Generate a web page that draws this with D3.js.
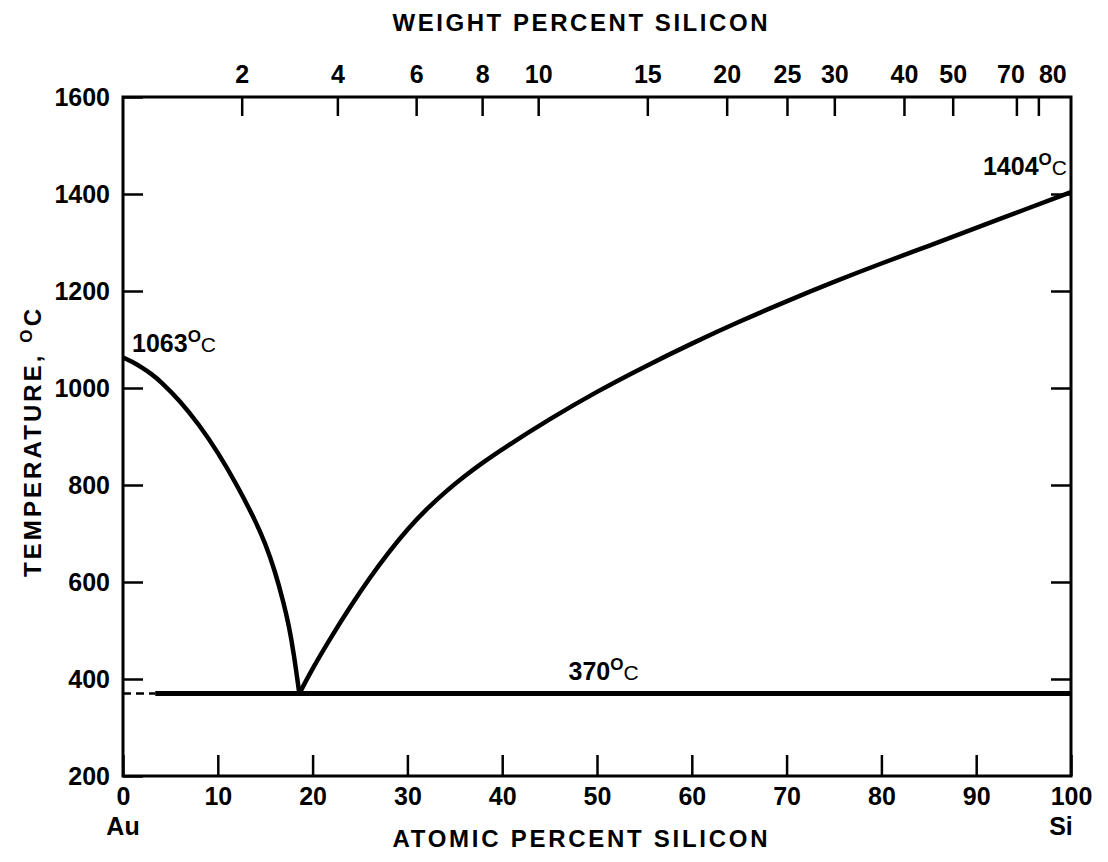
<!DOCTYPE html>
<html>
<head>
<meta charset="utf-8">
<script src="https://cdn.jsdelivr.net/npm/d3@7/dist/d3.min.js"></script>
<style>
  html, body { margin: 0; padding: 0; background: #fff; }
  svg { display: block; }
  text { font-family: "Liberation Sans", Arial, Helvetica, sans-serif; fill: #000; }
</style>
</head>
<body>
<svg id="chart" width="1108" height="862"></svg>
<script>
// Au–Si phase diagram: liquidus branches and the eutectic isotherm.

// Liquidus on the gold-rich side: [atomic % Si, temperature °C]
const liquidusAu = [
  [0, 1063], [1, 1054], [2, 1042], [3, 1029], [4, 1013], [6, 974],
  [8, 925], [10, 868], [12, 801], [14, 725], [15, 680], [16, 625],
  [17, 553], [17.5, 510], [18, 455], [18.6, 370]
];
// Liquidus on the silicon-rich side: [atomic % Si, temperature °C]
const liquidusSi = [
  [18.6, 370], [20, 422], [22, 488], [24, 550], [26, 608], [28, 661],
  [30, 709], [32, 750], [34, 786], [36, 818], [38, 847], [40, 874],
  [45, 936], [50, 993], [55, 1044], [60, 1092], [65, 1137], [70, 1179],
  [75, 1219], [80, 1257], [85, 1293], [90, 1330], [95, 1367], [100, 1404]
];
// Eutectic isotherm
const eutecticTemp = 370;
const eutecticSolidFrom = 3.4;   // dashed below this composition

// Axis ticks
const atomicTicks = [0, 10, 20, 30, 40, 50, 60, 70, 80, 90, 100];
const tempTicks = [200, 400, 600, 800, 1000, 1200, 1400, 1600];
const weightTicks = [2, 4, 6, 8, 10, 15, 20, 25, 30, 40, 50, 70, 80];
const endMembers = [{ label: "Au", at: 0 }, { label: "Si", at: 100 }];

// Point labels
const pointLabels = [
  { value: "1063", at: 0, temp: 1063, anchor: "start", dx: 9, dy: -5 },
  { value: "1404", at: 100, temp: 1404, anchor: "end", dx: -4, dy: -17 },
  { value: "370", at: 47, temp: 370, anchor: "start", dx: 0, dy: -14 }
];

// Atomic weights for the weight-% → atomic-% conversion
const massAu = 196.967, massSi = 28.086;
const wtToAt = w => 100 * (w / massSi) / (w / massSi + (100 - w) / massAu);

const svg = d3.select("#chart");
const plotLeft = 123, plotRight = 1071, plotTop = 97, plotBottom = 776;

const x = d3.scaleLinear().domain([0, 100]).range([plotLeft, plotRight]);
const y = d3.scaleLinear().domain([200, 1600]).range([plotBottom, plotTop]);

const tickFont = "bold 25px 'Liberation Sans', Arial, sans-serif";

function styleAxis(g) {
  g.select(".domain").remove();
  g.selectAll(".tick line").attr("stroke", "#000").attr("stroke-width", 2.5);
  g.selectAll(".tick text").style("font", tickFont).attr("fill", "#000");
}

// Bottom axis: atomic percent
svg.append("g")
  .attr("transform", `translate(0,${plotBottom})`)
  .call(d3.axisBottom(x).tickValues(atomicTicks).tickFormat(d3.format("d"))
    .tickSizeInner(-21).tickSizeOuter(0).tickPadding(11))
  .call(styleAxis);

// Left axis: temperature
svg.append("g")
  .attr("transform", `translate(${plotLeft},0)`)
  .call(d3.axisLeft(y).tickValues(tempTicks).tickFormat(d3.format("d"))
    .tickSizeInner(-20).tickSizeOuter(0).tickPadding(13))
  .call(styleAxis);

// Right axis: inward ticks only
svg.append("g")
  .attr("transform", `translate(${plotRight},0)`)
  .call(d3.axisRight(y).tickValues(tempTicks.slice(1, -1)).tickFormat("")
    .tickSizeInner(-20).tickSizeOuter(0))
  .call(styleAxis);

// Top axis: weight percent, placed at the equivalent atomic percent
const topAxis = svg.append("g")
  .attr("transform", `translate(0,${plotTop})`)
  .call(d3.axisTop(x)
    .tickValues(weightTicks.map(wtToAt))
    .tickFormat((d, i) => weightTicks[i])
    .tickSizeInner(-19).tickSizeOuter(0).tickPadding(14))
  .call(styleAxis);

// The two highest weight ticks sit close together: spread their labels
const crowded = topAxis.selectAll(".tick text").nodes();
d3.select(crowded[crowded.length - 2]).attr("dx", -6);
d3.select(crowded[crowded.length - 1]).attr("dx", 14);

// Frame
svg.append("rect")
  .attr("x", plotLeft).attr("y", plotTop)
  .attr("width", plotRight - plotLeft).attr("height", plotBottom - plotTop)
  .attr("fill", "none").attr("stroke", "#000").attr("stroke-width", 3);

// Axis titles
const titleFont = "bold 24px 'Liberation Sans', Arial, sans-serif";
svg.append("text")
  .attr("x", 580).attr("y", 31)
  .attr("text-anchor", "middle")
  .attr("textLength", 375).attr("lengthAdjust", "spacing")
  .style("font", titleFont)
  .text("WEIGHT PERCENT SILICON");

svg.append("text")
  .attr("x", 580).attr("y", 847)
  .attr("text-anchor", "middle")
  .attr("textLength", 375).attr("lengthAdjust", "spacing")
  .style("font", titleFont)
  .text("ATOMIC PERCENT SILICON");

const yTitle = svg.append("text")
  .attr("transform", `translate(41,443) rotate(-90)`)
  .attr("text-anchor", "middle")
  .attr("textLength", 268).attr("lengthAdjust", "spacing")
  .style("font", titleFont);
yTitle.append("tspan").text("TEMPERATURE, ");
yTitle.append("tspan").attr("dy", -9).style("font-size", "17px").text("O");
yTitle.append("tspan").attr("dy", 9).text("C");

// End-member labels
svg.selectAll(".element")
  .data(endMembers)
  .join("text")
  .attr("class", "element")
  .attr("x", d => x(d.at) - (d.at === 100 ? 10 : 0))
  .attr("y", 835)
  .attr("text-anchor", "middle")
  .style("font", tickFont)
  .text(d => d.label);

// Curves (B-spline keeps the end points and smooths between them)
const line = d3.line()
  .x(d => x(d[0]))
  .y(d => y(d[1]))
  .curve(d3.curveBasis);

[liquidusAu, liquidusSi].forEach(branch => {
  svg.append("path")
    .datum(branch)
    .attr("d", line)
    .attr("fill", "none").attr("stroke", "#000")
    .attr("stroke-width", 4.5).attr("stroke-linejoin", "round");
});

// Eutectic isotherm: dashed near pure Au, solid elsewhere
svg.append("line")
  .attr("x1", x(0)).attr("x2", x(eutecticSolidFrom))
  .attr("y1", y(eutecticTemp)).attr("y2", y(eutecticTemp))
  .attr("stroke", "#000").attr("stroke-width", 2.5)
  .attr("stroke-dasharray", "8,5");

svg.append("line")
  .attr("x1", x(eutecticSolidFrom)).attr("x2", x(100))
  .attr("y1", y(eutecticTemp)).attr("y2", y(eutecticTemp))
  .attr("stroke", "#000").attr("stroke-width", 5);

// Temperature labels with superscript degree mark
pointLabels.forEach(p => {
  const t = svg.append("text")
    .attr("x", x(p.at) + p.dx)
    .attr("y", y(p.temp) + p.dy)
    .attr("text-anchor", p.anchor);
  t.append("tspan").style("font", tickFont).text(p.value);
  t.append("tspan").attr("dy", -10)
    .style("font", "bold 17px 'Liberation Sans', Arial, sans-serif").text("O");
  t.append("tspan").attr("dy", 10)
    .style("font", "21px 'Liberation Sans', Arial, sans-serif").text("C");
});
</script>
</body>
</html>
